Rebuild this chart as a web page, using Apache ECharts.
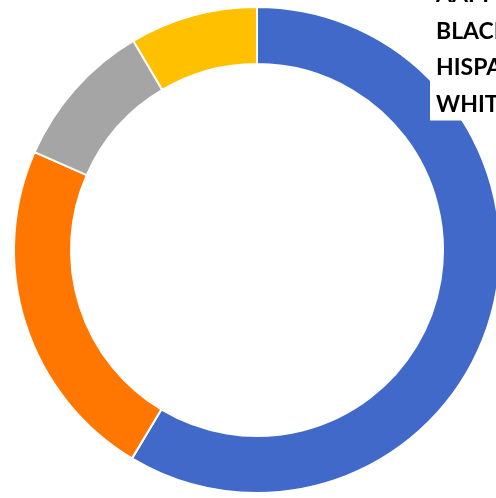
<!DOCTYPE html>
<html>
<head>
<meta charset="utf-8">
<script src="https://cdn.jsdelivr.net/npm/echarts@6/dist/echarts.min.js"></script>
<style>
  html, body { margin: 0; padding: 0; background: #fff; }
  #main { width: 496px; height: 498px; }
</style>
</head>
<body>
<div id="main"></div>
<script>
// groups, in legend order
var groups = ['AAPI', 'BLACK', 'HISPANIC', 'WHITE'];
// share of each group (percent)
var shares = [58.6, 23.0, 9.9, 8.5];
var colors = ['#4169C9', '#FF7600', '#A5A5A5', '#FFC000'];

var myChart = echarts.init(document.getElementById('main'));

myChart.setOption({
  animation: false,
  color: colors,
  legend: {
    orient: 'vertical',
    left: 430,
    top: -18,
    padding: [0, 20, 3, 0],
    backgroundColor: '#fff',
    itemWidth: 0,
    itemHeight: 0,
    itemGap: 10.5,
    selectedMode: false,
    textStyle: {
      fontFamily: 'Lato',
      fontSize: 23,
      fontWeight: 'bold',
      lineHeight: 26,
      color: '#000'
    },
    data: groups
  },
  series: [
    {
      type: 'pie',
      center: [257, 250],
      radius: [186, 243],
      startAngle: 90,
      clockwise: true,
      label: { show: false },
      labelLine: { show: false },
      emphasis: { disabled: true },
      itemStyle: {
        borderColor: '#fff',
        borderWidth: 2
      },
      data: groups.map(function (g, i) {
        return { name: g, value: shares[i] };
      })
    }
  ]
});
</script>
</body>
</html>
